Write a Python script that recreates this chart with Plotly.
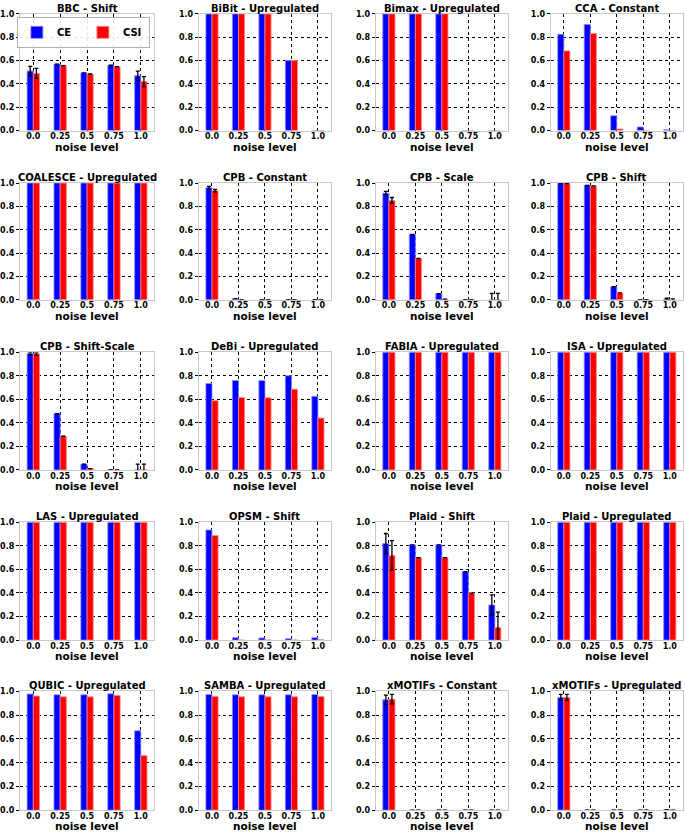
import plotly.graph_objects as go

noise_levels = ["0.0", "0.25", "0.5", "0.75", "1.0"]
series_names = ["CE", "CSI"]

titles = [
    "BBC - Shift", "BiBit - Upregulated", "Bimax - Upregulated", "CCA - Constant",
    "COALESCE - Upregulated", "CPB - Constant", "CPB - Scale", "CPB - Shift",
    "CPB - Shift-Scale", "DeBi - Upregulated", "FABIA - Upregulated", "ISA - Upregulated",
    "LAS - Upregulated", "OPSM - Shift", "Plaid - Shift", "Plaid - Upregulated",
    "QUBIC - Upregulated", "SAMBA - Upregulated", "xMOTIFs - Constant", "xMOTIFs - Upregulated",
]

# CE values per panel (same order as titles)
ce_bbc_shift = [0.51, 0.57, 0.495, 0.56, 0.47]
ce_bibit_up = [1.0, 1.0, 1.0, 0.60, 0.0]
ce_bimax_up = [1.0, 1.0, 1.0, 0.0, 0.0]
ce_cca_const = [0.825, 0.91, 0.127, 0.031, 0.008]
ce_coalesce_up = [1.0, 1.0, 1.0, 1.0, 1.0]
ce_cpb_const = [0.96, 0.01, 0.0, 0.0, 0.0]
ce_cpb_scale = [0.913, 0.559, 0.053, 0.0, 0.0]
ce_cpb_shift = [1.0, 0.98, 0.112, 0.0, 0.005]
ce_cpb_shiftscale = [0.99, 0.479, 0.05, 0.0, 0.0]
ce_debi_up = [0.734, 0.759, 0.759, 0.80, 0.625]
ce_fabia_up = [1.0, 1.0, 1.0, 1.0, 1.0]
ce_isa_up = [1.0, 1.0, 1.0, 1.0, 1.0]
ce_las_up = [1.0, 1.0, 1.0, 1.0, 1.0]
ce_opsm_shift = [0.935, 0.02, 0.018, 0.012, 0.02]
ce_plaid_shift = [0.82, 0.809, 0.809, 0.581, 0.298]
ce_plaid_up = [1.0, 1.0, 1.0, 1.0, 1.0]
ce_qubic_up = [0.978, 0.972, 0.972, 0.98, 0.669]
ce_samba_up = [0.975, 0.972, 0.972, 0.972, 0.975]
ce_xmotifs_const = [0.93, 0.0, 0.0, 0.0, 0.0]
ce_xmotifs_up = [0.95, 0.0, 0.0, 0.0, 0.003]

# CSI values per panel
csi_bbc_shift = [0.49, 0.556, 0.485, 0.548, 0.42]
csi_bibit_up = [1.0, 1.0, 1.0, 0.60, 0.0]
csi_bimax_up = [1.0, 1.0, 1.0, 0.0, 0.0]
csi_cca_const = [0.683, 0.832, 0.014, 0.0, 0.0]
csi_coalesce_up = [1.0, 1.0, 1.0, 1.0, 1.0]
csi_cpb_const = [0.935, 0.0, 0.0, 0.0, 0.0]
csi_cpb_scale = [0.851, 0.354, 0.006, 0.0, 0.0]
csi_cpb_shift = [0.995, 0.975, 0.059, 0.0, 0.0]
csi_cpb_shiftscale = [0.985, 0.286, 0.011, 0.0, 0.0]
csi_debi_up = [0.588, 0.616, 0.613, 0.686, 0.44]
csi_fabia_up = [1.0, 1.0, 1.0, 1.0, 1.0]
csi_isa_up = [1.0, 1.0, 1.0, 1.0, 1.0]
csi_las_up = [1.0, 1.0, 1.0, 1.0, 1.0]
csi_opsm_shift = [0.888, 0.0, 0.0, 0.0, 0.003]
csi_plaid_shift = [0.719, 0.70, 0.70, 0.399, 0.107]
csi_plaid_up = [1.0, 1.0, 1.0, 1.0, 1.0]
csi_qubic_up = [0.961, 0.955, 0.955, 0.967, 0.46]
csi_samba_up = [0.958, 0.955, 0.955, 0.955, 0.958]
csi_xmotifs_const = [0.935, 0.0, 0.0, 0.0, 0.0]
csi_xmotifs_up = [0.95, 0.0, 0.0, 0.0, 0.0]

# error bars (standard deviations)
ce_err_bbc_shift = [0.04, 0.0, 0.0, 0.0, 0.04]
csi_err_bbc_shift = [0.043, 0.0, 0.0, 0.0, 0.043]
ce_err_cpb_const = [0.012, 0.0, 0.0, 0.0, 0.0]
csi_err_cpb_const = [0.01, 0.0, 0.0, 0.0, 0.0]
ce_err_cpb_scale = [0.015, 0.0, 0.0, 0.0, 0.055]
csi_err_cpb_scale = [0.025, 0.0, 0.0, 0.0, 0.055]
ce_err_cpb_shift = [0.0, 0.0, 0.0, 0.0, 0.008]
csi_err_cpb_shift = [0.0, 0.0, 0.0, 0.0, 0.008]
ce_err_cpb_shiftscale = [0.01, 0.0, 0.0, 0.0, 0.05]
csi_err_cpb_shiftscale = [0.01, 0.0, 0.0, 0.0, 0.05]
ce_err_plaid_shift = [0.085, 0.0, 0.0, 0.0, 0.085]
csi_err_plaid_shift = [0.125, 0.0, 0.0, 0.0, 0.13]
ce_err_xmotifs_const = [0.04, 0.0, 0.0, 0.0, 0.0]
csi_err_xmotifs_const = [0.04, 0.0, 0.0, 0.0, 0.0]
ce_err_xmotifs_up = [0.025, 0.0, 0.0, 0.0, 0.0]
csi_err_xmotifs_up = [0.025, 0.0, 0.0, 0.0, 0.0]

zeros = [0.0] * 5

ce_all = [ce_bbc_shift, ce_bibit_up, ce_bimax_up, ce_cca_const, ce_coalesce_up,
          ce_cpb_const, ce_cpb_scale, ce_cpb_shift, ce_cpb_shiftscale, ce_debi_up,
          ce_fabia_up, ce_isa_up, ce_las_up, ce_opsm_shift, ce_plaid_shift,
          ce_plaid_up, ce_qubic_up, ce_samba_up, ce_xmotifs_const, ce_xmotifs_up]
csi_all = [csi_bbc_shift, csi_bibit_up, csi_bimax_up, csi_cca_const, csi_coalesce_up,
           csi_cpb_const, csi_cpb_scale, csi_cpb_shift, csi_cpb_shiftscale, csi_debi_up,
           csi_fabia_up, csi_isa_up, csi_las_up, csi_opsm_shift, csi_plaid_shift,
           csi_plaid_up, csi_qubic_up, csi_samba_up, csi_xmotifs_const, csi_xmotifs_up]
ce_err_all = [ce_err_bbc_shift, zeros, zeros, zeros, zeros,
              ce_err_cpb_const, ce_err_cpb_scale, ce_err_cpb_shift, ce_err_cpb_shiftscale, zeros,
              zeros, zeros, zeros, zeros, ce_err_plaid_shift,
              zeros, zeros, zeros, ce_err_xmotifs_const, ce_err_xmotifs_up]
csi_err_all = [csi_err_bbc_shift, zeros, zeros, zeros, zeros,
               csi_err_cpb_const, csi_err_cpb_scale, csi_err_cpb_shift, csi_err_cpb_shiftscale, zeros,
               zeros, zeros, zeros, zeros, csi_err_plaid_shift,
               zeros, zeros, zeros, csi_err_xmotifs_const, csi_err_xmotifs_up]

W, H = 685, 833
col_px = [(12, 148), (193, 327), (372, 506), (549, 683)]
row_px = [(10, 128), (181, 299), (352, 471), (524, 643), (695, 815)]

FONT = "DejaVu Sans"
fig = go.Figure()
layout = dict(
    width=W, height=H, margin=dict(l=0, r=0, t=0, b=0),
    plot_bgcolor="white", paper_bgcolor="white",
    barmode="group", bargap=0.54, bargroupgap=0.0,
    showlegend=True,
    legend=dict(x=9 / W, y=1 - 13 / H, xanchor="left", yanchor="top",
                orientation="h", bgcolor="rgba(255,255,255,0.9)",
                bordercolor="#b0b0b0", borderwidth=1,
                font=dict(family=FONT, size=10, color="black", weight="bold"),
                itemwidth=30, entrywidthmode="pixels", entrywidth=21,
                tracegroupgap=0),
    font=dict(family=FONT, color="black"),
)
annotations = []

for i, title in enumerate(titles):
    r, c = divmod(i, 4)
    x0, x1 = col_px[c]
    y0, y1 = row_px[r]
    n = i + 1
    xa = "x" if n == 1 else f"x{n}"
    ya = "y" if n == 1 else f"y{n}"
    xkey = "xaxis" if n == 1 else f"xaxis{n}"
    ykey = "yaxis" if n == 1 else f"yaxis{n}"
    layout[xkey] = dict(
        domain=[x0 / W, x1 / W], anchor=ya, type="category",
        categoryorder="array", categoryarray=noise_levels,
        range=[-0.5, 4.5],
        showgrid=True, gridcolor="black", griddash="dot", gridwidth=1,
        showline=True, linecolor="#c8c8c8", linewidth=1, mirror=True,
        ticks="", ticklabelstandoff=-2,
        tickfont=dict(family=FONT, size=8, color="black", weight="bold"),
        fixedrange=True,
    )
    layout[ykey] = dict(
        domain=[1 - y1 / H, 1 - y0 / H], anchor=xa, range=[0, 1],
        tickvals=[0, 0.2, 0.4, 0.6, 0.8, 1.0], tickformat=".1f",
        showgrid=True, gridcolor="black", griddash="dot", gridwidth=1,
        showline=True, linecolor="#c8c8c8", linewidth=1, mirror=True,
        ticks="outside", ticklen=3, tickcolor="black",
        tickfont=dict(family=FONT, size=8, color="black", weight="bold"),
        zeroline=False, fixedrange=True,
    )
    for vals, errs, name, color, edge in [
        (ce_all[i], ce_err_all[i], series_names[0], "#0000ff", "#8c8cff"),
        (csi_all[i], csi_err_all[i], series_names[1], "#ff0000", "#ff8c8c"),
    ]:
        has_err = any(e > 0 for e in errs)
        fig.add_trace(go.Bar(
            x=noise_levels, y=vals, name=name, xaxis=xa, yaxis=ya,
            marker=dict(color=color, line=dict(color=edge, width=0.8)),
            error_y=dict(type="data", array=errs, visible=has_err,
                         color="black", thickness=1.3, width=2),
            showlegend=(i == 0), legendgroup=name,
        ))
    cx = (x0 + x1) / 2 / W
    annotations.append(dict(
        text=title, x=cx, y=1 - y0 / H, xref="paper", yref="paper",
        xanchor="center", yanchor="bottom", yshift=-2, showarrow=False,
        font=dict(family=FONT, size=10, color="black", weight="bold"),
    ))
    annotations.append(dict(
        text="noise level", x=cx, y=1 - y1 / H, xref="paper", yref="paper",
        xanchor="center", yanchor="top", yshift=-8, showarrow=False,
        font=dict(family=FONT, size=10.5, color="black", weight="bold"),
    ))

layout["annotations"] = annotations
fig.update_layout(**layout)
fig.write_html(
    "out.html",
    config={"displayModeBar": False, "staticPlot": True},
    post_script="document.body.style.margin='0';document.body.style.padding='0';",
)
